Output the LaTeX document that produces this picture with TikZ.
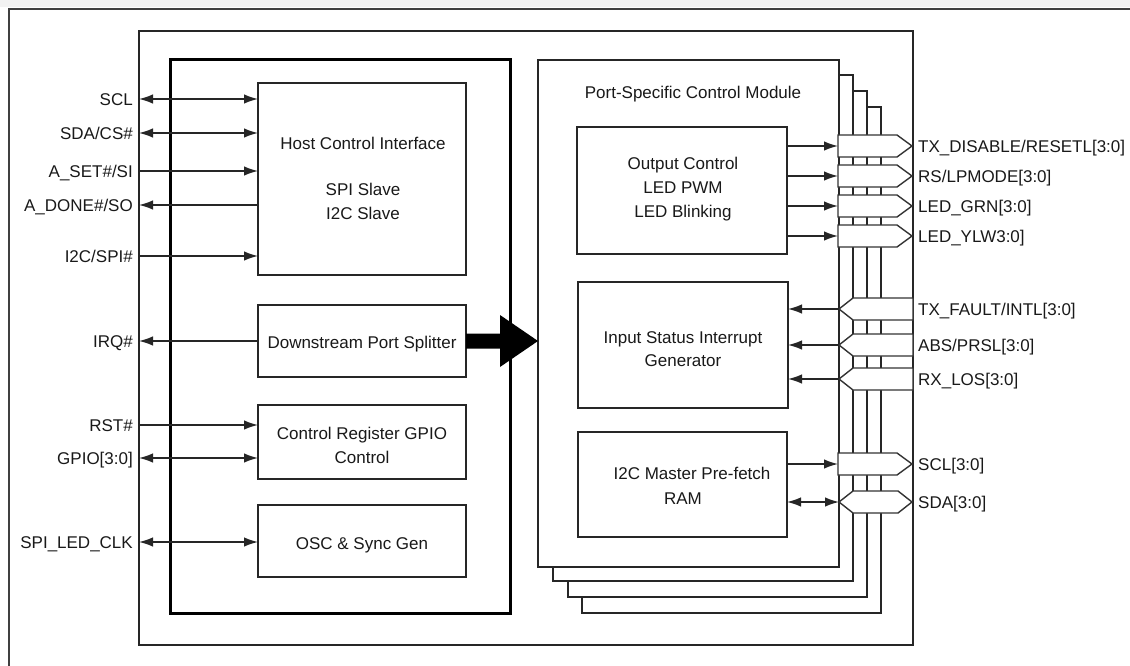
\documentclass[tikz,border=0pt]{standalone}
\usepackage{fontspec}
\setmainfont{Liberation Sans}
\usetikzlibrary{arrows.meta}
\begin{document}
\begin{tikzpicture}[x=1pt,y=-1pt,
  >={Latex[length=14pt,width=9.5pt]},
  ln/.style={line width=1.4pt, draw=black!85},
  box/.style={draw=black!85, line width=1.4pt, fill=white, inner sep=0pt, outer sep=0pt, anchor=north west},
  txt/.style={font=\fontsize{17}{20}\selectfont, text=black!90, inner sep=0pt, text height=12.2pt, text depth=0pt},
  sigl/.style={txt, anchor=east},
  sigr/.style={txt, anchor=west},
  bus/.style={draw=black!80, line width=1.4pt, fill=white}
]
\useasboundingbox (0,0) rectangle (1130,666);
\fill[black!5] (0,0) rectangle (1130,7);
% outer frame
\draw[line width=2pt, black!75] (9,666) -- (9,9) -- (1130,9);
% chip frame
\node[box, minimum width=774pt, minimum height=614pt] (chip) at (139,31) {};
% thick host block
\node[box, line width=3pt, draw=black, minimum width=340pt, minimum height=553pt] (host) at (170,60) {};
% host sub-boxes
\node[box, minimum width=208pt, minimum height=192pt] (hci) at (258,83) {};
\node[box, minimum width=208pt, minimum height=72pt] (dps) at (258,305) {};
\node[box, minimum width=208pt, minimum height=74pt] (crg) at (258,405) {};
\node[box, minimum width=208pt, minimum height=72pt] (osc) at (258,505) {};
\node[txt] (t-hci1) at (363,143) {Host Control Interface};
\node[txt] (t-hci2) at (363,189) {SPI Slave};
\node[txt] (t-hci3) at (363,213) {I2C Slave};
\node[txt] (t-dps) at (362,342) {Downstream Port Splitter};
\node[txt] (t-crg1) at (362,433) {Control Register GPIO};
\node[txt] (t-crg2) at (362,457) {Control};
\node[txt] (t-osc) at (362,543) {OSC \& Sync Gen};
% stacked port modules
\node[box, minimum width=299pt, minimum height=506pt] (m4) at (582,107) {};
\node[box, minimum width=299pt, minimum height=506pt] (m3) at (568,91) {};
\node[box, minimum width=300pt, minimum height=506pt] (m2) at (553,75) {};
\node[box, minimum width=301pt, minimum height=507pt] (psm) at (538,60) {};
\node[txt] (t-psm) at (693,92) {Port-Specific Control Module};
\node[box, minimum width=210pt, minimum height=127pt] (occ) at (577,127) {};
\node[box, minimum width=210pt, minimum height=126pt] (isg) at (578,282) {};
\node[box, minimum width=209pt, minimum height=105pt] (i2m) at (578,432) {};
\node[txt] (t-occ1) at (683,163) {Output Control};
\node[txt] (t-occ2) at (683,187) {LED PWM};
\node[txt] (t-occ3) at (683,211) {LED Blinking};
\node[txt] (t-isg1) at (683,337) {Input Status Interrupt};
\node[txt] (t-isg2) at (683,360) {Generator};
\node[txt] (t-i2m1) at (692,473) {I2C Master Pre-fetch};
\node[txt] (t-i2m2) at (683,498) {RAM};
% big arrow
\fill[black, shift={(dps.east)}] (0,-7.5) -- (34,-7.5) -- (34,-26) -- (72,0) -- (34,26) -- (34,7.5) -- (0,7.5) -- cycle;
% left signals
\node[sigl] (s1) at (133,99) {SCL};
\node[sigl] (s2) at (133,133) {SDA/CS\#};
\node[sigl] (s3) at (133,171) {A\_SET\#/SI};
\node[sigl] (s4) at (133,205) {A\_DONE\#/SO};
\node[sigl] (s5) at (133,256) {I2C/SPI\#};
\node[sigl] (s6) at (133,341) {IRQ\#};
\node[sigl] (s7) at (133,425) {RST\#};
\node[sigl] (s8) at (133,458) {GPIO[3:0]};
\node[sigl] (s9) at (133,542) {SPI\_LED\_CLK};
\draw[ln,<->] (chip.west |- s1.east) -- (hci.west |- s1.east);
\draw[ln,<->] (chip.west |- s2.east) -- (hci.west |- s2.east);
\draw[ln,->] (chip.west |- s3.east) -- (hci.west |- s3.east);
\draw[ln,<-] (chip.west |- s4.east) -- (hci.west |- s4.east);
\draw[ln,->] (chip.west |- s5.east) -- (hci.west |- s5.east);
\draw[ln,<-] (chip.west |- s6.east) -- (dps.west |- s6.east);
\draw[ln,->] (chip.west |- s7.east) -- (crg.west |- s7.east);
\draw[ln,<->] (chip.west |- s8.east) -- (crg.west |- s8.east);
\draw[ln,<->] (chip.west |- s9.east) -- (osc.west |- s9.east);
% output buses
\foreach \n/\y in {b1/146, b2/176, b3/206, b4/236, b8/464} {
  \draw[bus] (838,\y-11) -- (897,\y-11) -- (912,\y) -- (897,\y+11) -- (838,\y+11) -- cycle;
  \coordinate (\n) at (838,\y);
}
% input buses
\foreach \n/\y in {b5/309, b6/345, b7/379} {
  \draw[bus] (839,\y) -- (853,\y-11) -- (913,\y-11) -- (913,\y+11) -- (853,\y+11) -- cycle;
  \coordinate (\n) at (839,\y);
}
% bidirectional bus
\draw[bus] (839,502) -- (853,491) -- (898,491) -- (912,502) -- (898,513) -- (853,513) -- cycle;
\coordinate (b9) at (839,502);
% right connections
\draw[ln,->] (occ.east |- b1) -- (b1);
\draw[ln,->] (occ.east |- b2) -- (b2);
\draw[ln,->] (occ.east |- b3) -- (b3);
\draw[ln,->] (occ.east |- b4) -- (b4);
\draw[ln,<-] (isg.east |- b5) -- (b5);
\draw[ln,<-] (isg.east |- b6) -- (b6);
\draw[ln,<-] (isg.east |- b7) -- (b7);
\draw[ln,->] (i2m.east |- b8) -- (b8);
\draw[ln,<->] (i2m.east |- b9) -- (b9);
% right labels
\node[sigr] (r1) at (918,146) {TX\_DISABLE/RESETL[3:0]};
\node[sigr] (r2) at (918,176) {RS/LPMODE[3:0]};
\node[sigr] (r3) at (918,206) {LED\_GRN[3:0]};
\node[sigr] (r4) at (918,236) {LED\_YLW3:0]};
\node[sigr] (r5) at (918,309) {TX\_FAULT/INTL[3:0]};
\node[sigr] (r6) at (918,345) {ABS/PRSL[3:0]};
\node[sigr] (r7) at (918,379) {RX\_LOS[3:0]};
\node[sigr] (r8) at (918,464) {SCL[3:0]};
\node[sigr] (r9) at (918,502) {SDA[3:0]};
\end{tikzpicture}
\end{document}
